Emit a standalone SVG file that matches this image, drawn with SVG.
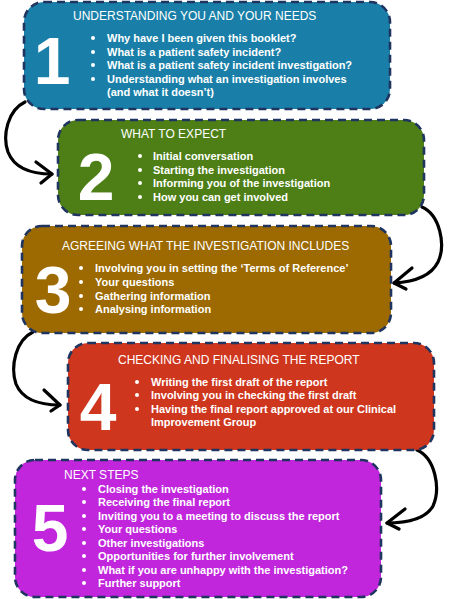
<svg xmlns="http://www.w3.org/2000/svg" width="450" height="599" viewBox="0 0 450 599">
<defs>
<style>
.box{stroke:#1f3560;stroke-width:2.6;stroke-dasharray:8 5}
.t{font-family:"Liberation Sans",Arial,sans-serif;fill:#fff}
.title{font-size:12px}
.num{font-size:66px;font-weight:bold;text-anchor:middle}
.li{font-size:11px;font-weight:bold}
.bu{fill:#fff}
.conn{fill:none;stroke:#000;stroke-width:3.2;stroke-linecap:round;stroke-linejoin:round}
</style>
</defs>
<rect width="450" height="599" fill="#fff"/>
<g id="connectors">
<path class="conn" d="M25,102 C8,110 2,135 8,152 C15,170 35,174 52,174"/>
<path class="conn" d="M36,162 L52,174 L41,183"/>
<path class="conn" d="M422,207 C440,215 446,245 438,262 C430,278 412,282 394,283"/>
<path class="conn" d="M412,268 L394,283 L406,289"/>
<path class="conn" d="M33,332 C16,340 10,366 16,384 C23,401 42,405 60,405"/>
<path class="conn" d="M44,390 L60,405 L51,411"/>
<path class="conn" d="M417,450 C435,458 441,488 433,506 C425,520 405,523 387,523"/>
<path class="conn" d="M405,509 L387,523 L399,529"/>
</g>
<g id="node1">
<rect class="box" x="24" y="2" width="366" height="107" rx="20" fill="#1a7fa8"/>
<text class="t title" x="73" y="20">UNDERSTANDING YOU AND YOUR NEEDS</text>
<text class="t num" x="52" y="84">1</text>
<circle class="bu" cx="93" cy="38" r="2"/><text class="t li" x="107" y="42">Why have I been given this booklet?</text>
<circle class="bu" cx="93" cy="52" r="2"/><text class="t li" x="107" y="56">What is a patient safety incident?</text>
<circle class="bu" cx="93" cy="65" r="2"/><text class="t li" x="107" y="69">What is a patient safety incident investigation?</text>
<circle class="bu" cx="93" cy="79" r="2"/><text class="t li" x="107" y="83">Understanding what an investigation involves</text>
<text class="t li" x="107" y="96">(and what it doesn’t)</text>
</g>
<g id="node2">
<rect class="box" x="58" y="120" width="366" height="95" rx="20" fill="#4e7f17"/>
<text class="t title" x="121" y="138">WHAT TO EXPECT</text>
<text class="t num" x="96" y="200">2</text>
<circle class="bu" cx="140" cy="156" r="2"/><text class="t li" x="153" y="160">Initial conversation</text>
<circle class="bu" cx="140" cy="170" r="2"/><text class="t li" x="153" y="174">Starting the investigation</text>
<circle class="bu" cx="140" cy="183" r="2"/><text class="t li" x="153" y="187">Informing you of the investigation</text>
<circle class="bu" cx="140" cy="197" r="2"/><text class="t li" x="153" y="201">How you can get involved</text>
</g>
<g id="node3">
<rect class="box" x="22" y="226" width="369" height="107" rx="20" fill="#9c6a00"/>
<text class="t title" x="62" y="250">AGREEING WHAT THE INVESTIGATION INCLUDES</text>
<text class="t num" x="53" y="313">3</text>
<circle class="bu" cx="81" cy="268" r="2"/><text class="t li" x="95" y="272">Involving you in setting the ‘Terms of Reference’</text>
<circle class="bu" cx="81" cy="282" r="2"/><text class="t li" x="95" y="286">Your questions</text>
<circle class="bu" cx="81" cy="296" r="2"/><text class="t li" x="95" y="300">Gathering information</text>
<circle class="bu" cx="81" cy="309" r="2"/><text class="t li" x="95" y="313">Analysing information</text>
</g>
<g id="node4">
<rect class="box" x="68" y="343" width="366" height="107" rx="20" fill="#cf361e"/>
<text class="t title" x="118" y="364">CHECKING AND FINALISING THE REPORT</text>
<text class="t num" x="98" y="430">4</text>
<circle class="bu" cx="137" cy="382" r="2"/><text class="t li" x="151" y="386">Writing the first draft of the report</text>
<circle class="bu" cx="137" cy="395" r="2"/><text class="t li" x="151" y="399">Involving you in checking the first draft</text>
<circle class="bu" cx="137" cy="409" r="2"/><text class="t li" x="151" y="413">Having the final report approved at our Clinical</text>
<text class="t li" x="151" y="426">Improvement Group</text>
</g>
<g id="node5">
<rect class="box" x="15" y="460" width="366" height="137" rx="20" fill="#c126dd"/>
<text class="t title" x="64" y="479">NEXT STEPS</text>
<text class="t num" x="50" y="551">5</text>
<circle class="bu" cx="84" cy="489" r="2"/><text class="t li" x="98" y="493">Closing the investigation</text>
<circle class="bu" cx="84" cy="502" r="2"/><text class="t li" x="98" y="506">Receiving the final report</text>
<circle class="bu" cx="84" cy="516" r="2"/><text class="t li" x="98" y="520">Inviting you to a meeting to discuss the report</text>
<circle class="bu" cx="84" cy="529" r="2"/><text class="t li" x="98" y="533">Your questions</text>
<circle class="bu" cx="84" cy="543" r="2"/><text class="t li" x="98" y="547">Other investigations</text>
<circle class="bu" cx="84" cy="556" r="2"/><text class="t li" x="98" y="560">Opportunities for further involvement</text>
<circle class="bu" cx="84" cy="570" r="2"/><text class="t li" x="98" y="574">What if you are unhappy with the investigation?</text>
<circle class="bu" cx="84" cy="583" r="2"/><text class="t li" x="98" y="587">Further support</text>
</g>
</svg>
